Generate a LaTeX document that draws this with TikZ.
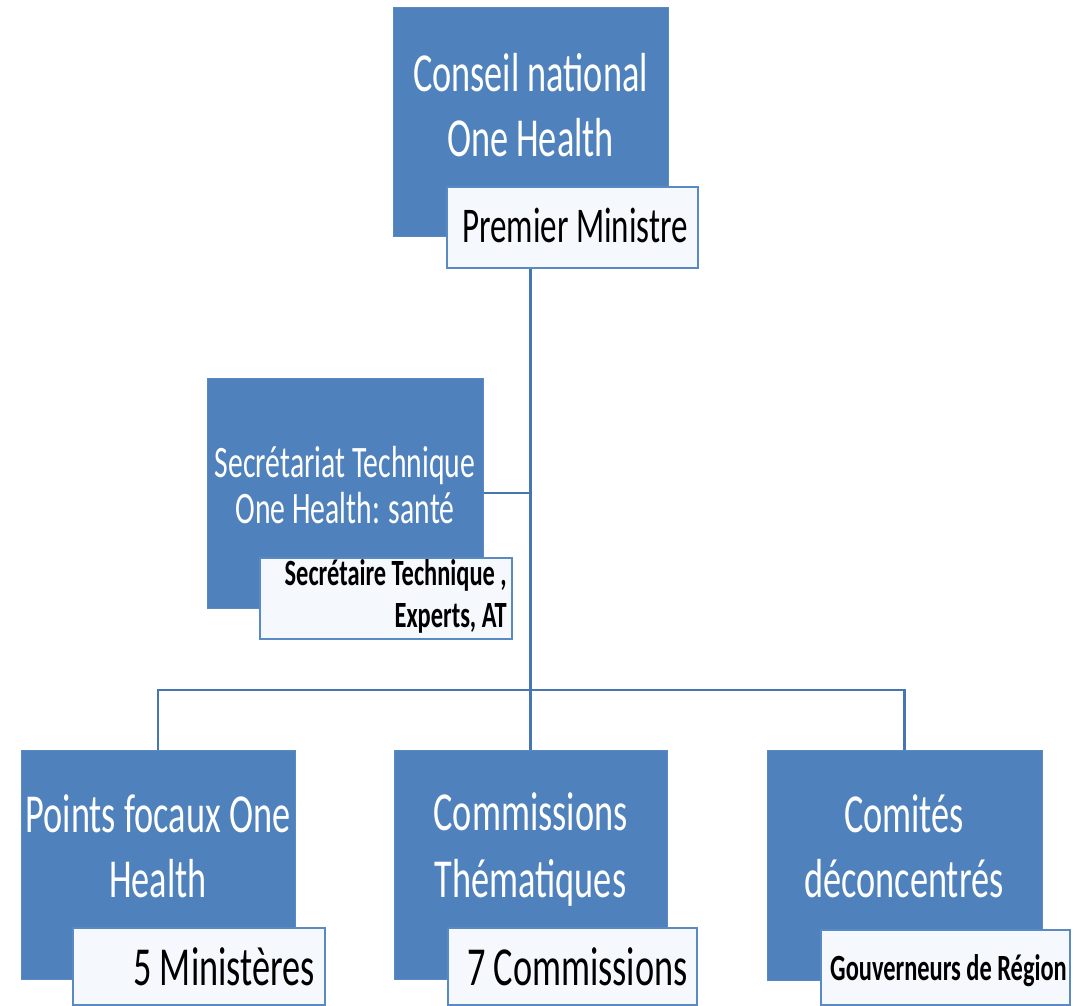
\documentclass[tikz,border=0pt]{standalone}
\usepackage{fontspec}
\setmainfont{Carlito}
\newfontfamily\ohfont[FakeStretch=0.66]{Carlito}
\definecolor{ohblue}{HTML}{4F81BD}
\definecolor{ohedge}{HTML}{5A8AC4}
\definecolor{ohline}{HTML}{4676B2}
\definecolor{labfill}{HTML}{F5F8FC}
\begin{document}
\begin{tikzpicture}[x=1pt,y=-1pt,
  bluebox/.style={rectangle, fill=ohblue, draw=ohedge, line width=1pt, inner sep=0pt},
  labbox/.style={rectangle, fill=labfill, draw=ohedge, line width=2pt, inner sep=0pt},
  conn/.style={draw=ohline, line width=2.6pt},
  bigw/.style={inner sep=0pt, text=white, font=\ohfont\fontsize{55}{55}\selectfont},
  midw/.style={inner sep=0pt, text=white, font=\ohfont\fontsize{45}{45}\selectfont},
  bigk/.style={inner sep=0pt, text=black, font=\ohfont\fontsize{55}{55}\selectfont},
  pmk/.style={inner sep=0pt, text=black, font=\ohfont\fontsize{50}{50}\selectfont},
  boldk/.style={inner sep=0pt, text=black, font=\ohfont\bfseries\fontsize{37}{37}\selectfont}]
\useasboundingbox[fill=white] (0,0) rectangle (1080,1006);

% blue boxes
\node[bluebox, minimum width=275, minimum height=229] (cn) at (530.5,122.5) {};
\node[bluebox, minimum width=276, minimum height=230] (st) at (345,493) {};
\node[bluebox, minimum width=274, minimum height=229] (pf) at (158,864.5) {};
\node[bluebox, minimum width=273, minimum height=229] (ct) at (530.5,864.5) {};
\node[bluebox, minimum width=275, minimum height=230] (cd) at (904.5,865) {};

% white label boxes
\node[labbox, minimum width=251, minimum height=81] (pm) at (572.5,227.5) {};
\node[labbox, minimum width=252, minimum height=81] (stl) at (386,598.5) {};
\node[labbox, minimum width=252, minimum height=77] (pfl) at (199,966.5) {};
\node[labbox, minimum width=249, minimum height=77] (ctl) at (572.5,966.5) {};
\node[labbox, minimum width=249, minimum height=75] (cdl) at (945.5,967.5) {};

% connectors
\coordinate (bar) at (530.5,690);
\draw[conn] (pm.south -| cn.center) -- (ct.north);
\draw[conn] (st.east) -- (st.east -| cn.center);
\draw[conn] (pf.north) -- (pf.north |- bar) -- (cd.north |- bar) -- (cd.north);

% texts
\node[bigw, anchor=base] (cn1) at (530.5,92) {Conseil national};
\node[bigw, anchor=base] (cn2) at (530.5,157) {One Health};
\node[pmk, anchor=base] (pmt) at (575,242) {Premier Ministre};

\node[midw, anchor=base] (st1) at (345,477) {Secrétariat Technique};
\node[midw, anchor=base] (st2) at (345,523) {One Health: santé};
\node[boldk, anchor=base east] (stl1) at (507,585) {Secrétaire Technique ,};
\node[boldk, anchor=base east] (stl2) at (507,627) {Experts, AT};

\node[bigw, anchor=base] (pf1) at (158,832) {Points focaux One};
\node[bigw, anchor=base] (pf2) at (158,897) {Health};
\node[bigk, anchor=base east] (pflt) at (315,985) {5 Ministères};

\node[bigw, anchor=base] (ct1) at (530.5,830) {Commissions};
\node[bigw, anchor=base] (ct2) at (530.5,897) {Thématiques};
\node[bigk, anchor=base west] (ctlt) at (467,985) {7 Commissions};

\node[bigw, anchor=base] (cd1) at (904,832) {Comités};
\node[bigw, anchor=base] (cd2) at (904,897) {déconcentrés};
\node[boldk, anchor=base west] (cdlt) at (830,980) {Gouverneurs de Région};
\end{tikzpicture}
\end{document}
